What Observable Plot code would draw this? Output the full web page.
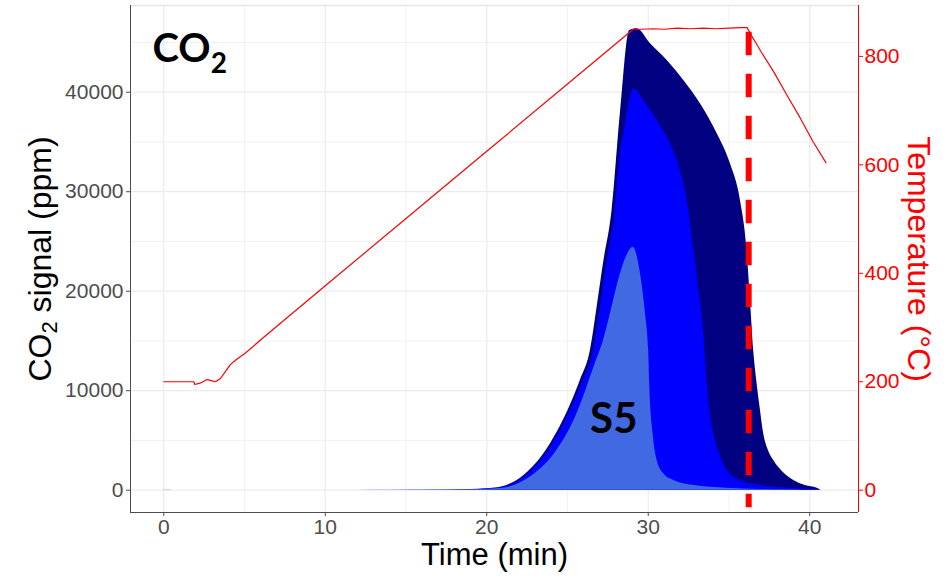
<!DOCTYPE html>
<html>
<head>
<meta charset="utf-8">
<script src="https://cdn.jsdelivr.net/npm/d3@7"></script>
<script src="https://cdn.jsdelivr.net/npm/@observablehq/plot@0.6"></script>
<style>
  html, body { margin: 0; padding: 0; background: #fff; }
  #chart { width: 948px; height: 578px; }
</style>
</head>
<body>
<div id="chart"></div>
<script>
// ---- Data ----
// Time axis ticks (min)
const xTicks = [0, 10, 20, 30, 40];
const xMinor = [5, 15, 25, 35];
// CO2 axis ticks (ppm)
const yTicks = [0, 10000, 20000, 30000, 40000];
const yMinor = [5000, 15000, 25000, 35000, 45000];
// Temperature axis ticks (°C)
const tempTicks = [0, 200, 400, 600, 800];

// Series 1 (navy, largest)
const navyT = [0, 0.45, 17, 18.99, 20.0, 20.85, 22.09, 23.02, 23.94, 24.69, 25.31, 25.80, 26.42, 26.85, 27.23, 27.76, 28.28, 28.85, 29.31, 30.14, 31.17, 32.20, 33.23, 34.27, 35.09, 35.71, 36.12, 36.33, 36.53, 36.74, 36.95, 37.15, 37.44, 37.77, 38.37, 39.01, 39.73, 40.46, 40.66];
const navyV = [0, 0, 0, 60, 140, 300, 1200, 2600, 4650, 6850, 9050, 11050, 14040, 18563, 22784, 28111, 37960, 46201, 46372, 44864, 43186, 41176, 38834, 35819, 32804, 29116, 24090, 19065, 14040, 10693, 8010, 5668, 3990, 2985, 1779, 975, 472, 201, 20];

// Series 2 (blue)
const blueT = [0, 0.45, 11, 14, 17, 18.99, 20.0, 21.03, 22.15, 23.08, 24.01, 24.75, 25.40, 25.93, 26.58, 27.04, 27.41, 27.94, 28.22, 28.53, 28.84, 29.10, 29.72, 30.55, 31.37, 31.99, 32.51, 32.82, 33.14, 33.44, 33.65, 33.85, 34.06, 34.47, 34.89, 35.71, 36.95, 38.99, 40.66];
const blueV = [0, 0, 0, 5, 20, 55, 125, 290, 1100, 2450, 4442, 6603, 8814, 10824, 13839, 18362, 22583, 27910, 33136, 36151, 39166, 40342, 39166, 37156, 34814, 32131, 28111, 24090, 20070, 15719, 10693, 7508, 5668, 3487, 1980, 975, 472, 171, 50];

// Series 3 (royal blue, S5)
const royalT = [0, 0.4, 0.45, 11, 12, 14, 16, 17.5, 18.99, 20.0, 20.85, 22.21, 23.20, 24.32, 25.43, 26.11, 26.67, 27.23, 27.66, 28.28, 28.65, 29.07, 29.52, 29.83, 30.03, 30.09, 30.30, 30.55, 30.96, 31.58, 32.82, 34.89, 36.95, 39.4];
const royalV = [20, 20, 0, 0, 6, 15, 28, 45, 60, 90, 160, 850, 1950, 3950, 7100, 9900, 12500, 15045, 17729, 21749, 23490, 24422, 21749, 17729, 14040, 10693, 5668, 2985, 1648, 975, 472, 201, 70, 20];

// Temperature (°C)
const tempT = [0, 1.86, 1.92, 2.3, 2.69, 2.95, 3.2, 3.51, 3.85, 4.13, 4.54, 5.06, 6.19, 10, 15, 20, 25, 29.07, 29.6, 30.3, 31.0, 31.8, 32.6, 33.4, 34.2, 35.0, 35.8, 36.12, 36.4, 37.0, 37.8, 38.6, 39.4, 40.2, 41.0];
const tempV = [200, 200, 195, 198, 204, 202, 200, 206, 220, 232, 242, 253, 282, 377, 501, 625, 749, 850, 850, 851, 850, 852, 851, 852, 851, 852, 853, 853, 838, 808, 770, 728, 687, 643, 604];

// Dashed marker line (time, ppm extent)
const markerT = [36.22];
const markerY1 = [46030];
const markerY2 = [-1760];

// Annotation labels
const sampleLabel = ["S5"];
const sampleT = [26.4];
const sampleV = [5730];
const gasLabel = ["CO2"];

// Scale settings
const k = 54.5;                 // ppm per °C for the secondary axis
const xDomain = [-2.06, 43.02];
const yDomain = [-2241, 48714];

const rows = (T, V) => T.map((t, i) => ({t, v: V[i]}));
const navy = rows(navyT, navyV);
const blue = rows(blueT, blueV);
const royal = rows(royalT, royalV);
const temp = rows(tempT, tempV);
const marker = markerT.map((t, i) => ({t, y1: markerY1[i], y2: markerY2[i]}));
const annot = sampleLabel.map((label, i) => ({label, t: sampleT[i], v: sampleV[i]}));

const gray = "#4d4d4d";
const gridColor = "#ebebeb";

const plot = Plot.plot({
  width: 948,
  height: 578,
  marginLeft: 130,
  marginRight: 90,
  marginTop: 5,
  marginBottom: 66,
  style: {fontFamily: "'Liberation Sans', Arial, sans-serif", fontSize: "21px", background: "#fff", overflow: "visible"},
  x: {domain: xDomain},
  y: {domain: yDomain},
  marks: [
    Plot.gridX(xMinor, {stroke: gridColor, strokeOpacity: 1, strokeWidth: 0.7}),
    Plot.gridY(yMinor, {stroke: gridColor, strokeOpacity: 1, strokeWidth: 0.7}),
    Plot.gridX(xTicks, {stroke: gridColor, strokeOpacity: 1, strokeWidth: 1.2}),
    Plot.gridY(yTicks, {stroke: gridColor, strokeOpacity: 1, strokeWidth: 1.2}),
    Plot.ruleY([yDomain[1]], {stroke: "#e6e6e6", strokeWidth: 1.5}),
    Plot.areaY(navy, {x: "t", y: "v", fill: "#000080", curve: "monotone-x"}),
    Plot.areaY(blue, {x: "t", y: "v", fill: "#0000ff", curve: "monotone-x"}),
    Plot.areaY(royal, {x: "t", y: "v", fill: "#4169e1", curve: "monotone-x"}),
    Plot.lineY(temp, {x: "t", y: d => d.v * k, stroke: "#ff0000", strokeWidth: 1.2}),
    Plot.ruleX(marker, {x: "t", y1: "y1", y2: "y2", stroke: "#ff0000", strokeWidth: 6, strokeDasharray: "23.5,18.5"}),
    Plot.ruleX([xDomain[0]], {stroke: gray, strokeWidth: 1}),
    Plot.ruleY([yDomain[0]], {stroke: gray, strokeWidth: 1}),
    Plot.ruleX([xDomain[1]], {stroke: "#ff0000", strokeWidth: 1}),
    Plot.axisX(xTicks, {tickSize: 4, tickPadding: 3, color: gray, fontSize: 21, label: null, tickFormat: d => String(d)}),
    Plot.axisY(yTicks, {anchor: "left", tickSize: 4, tickPadding: 3, color: gray, fontSize: 21, label: null, tickFormat: d => String(d)}),
    Plot.axisY(tempTicks.map(d => d * k), {anchor: "right", tickSize: 4, tickPadding: 2, color: "#ff0000", fontSize: 21, label: null, tickFormat: d => String(Math.round(d / k))}),
    Plot.text(["Time (min)"], {text: d => d, frameAnchor: "bottom", dy: 52, lineAnchor: "bottom", textAnchor: "middle", fontSize: 31, fill: "#000"}),
    Plot.text(["CO2 signal (ppm)"], {text: d => d, frameAnchor: "left", dx: -80, rotate: -90, lineAnchor: "bottom", textAnchor: "middle", fontSize: 32, fill: "#000"}),
    Plot.text(["Temperature (°C)"], {text: d => d, frameAnchor: "right", dx: 49, rotate: 90, lineAnchor: "bottom", textAnchor: "middle", fontSize: 32, fill: "#ff0000"}),
    Plot.text(gasLabel, {text: d => d, frameAnchor: "top-left", dx: 22, dy: 56.7, textAnchor: "start", lineAnchor: "bottom", fontSize: 40, fontWeight: "bold", fontFamily: "Lato, 'Open Sans', sans-serif", fill: "#000"}),
    Plot.text(annot, {x: "t", y: "v", text: "label", textAnchor: "start", lineAnchor: "bottom", fontSize: 42, fontWeight: "bold", fontFamily: "Lato, 'Open Sans', sans-serif", fill: "#000"})
  ]
});

// Subscript "2" in CO2 texts
d3.select(plot).selectAll("text").each(function () {
  const s = this.textContent;
  const el = d3.select(this);
  if (s === "CO2 signal (ppm)") {
    el.text(null);
    el.append("tspan").text("CO");
    el.append("tspan").attr("font-size", 22).attr("dy", 6).text("2");
    el.append("tspan").attr("dy", -6).text(" signal (ppm)");
  } else if (s === "CO2") {
    el.text(null);
    el.append("tspan").text("CO");
    el.append("tspan").attr("font-size", 28).attr("dy", 11).text("2");
  }
});

document.getElementById("chart").appendChild(plot);
</script>
</body>
</html>
